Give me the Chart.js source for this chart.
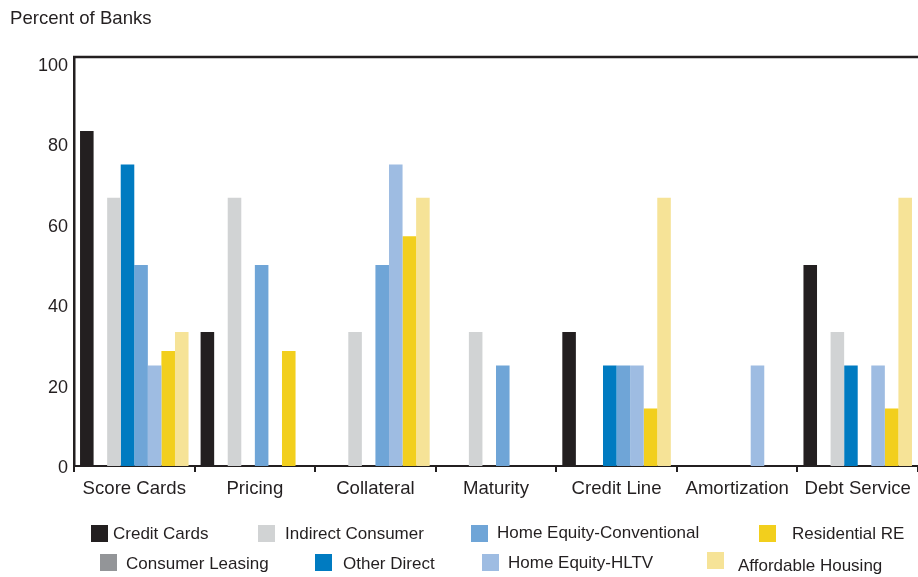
<!DOCTYPE html>
<html>
<head>
<meta charset="utf-8">
<script src="https://cdn.jsdelivr.net/npm/chart.js@4.4.0/dist/chart.umd.min.js"></script>
<style>
  html, body { margin: 0; padding: 0; background: #fff; }
  #wrap { width: 918px; height: 577px; position: relative; }
</style>
</head>
<body>
<div id="wrap"><canvas id="bankChart"></canvas></div>
<script>
const categories = ["Score Cards", "Pricing", "Collateral", "Maturity", "Credit Line", "Amortization", "Debt Service"];
const creditCards       = [83.3, 33.3, 0, 0, 33.3, 0, 50];
const consumerLeasing   = [0, 0, 0, 0, 0, 0, 0];
const indirectConsumer  = [66.7, 66.7, 33.3, 33.3, 0, 0, 33.3];
const otherDirect       = [75, 0, 0, 0, 25, 0, 25];
const homeEquityConv    = [50, 50, 50, 25, 25, 0, 0];
const homeEquityHLTV    = [25, 0, 75, 0, 25, 25, 25];
const residentialRE     = [28.6, 28.6, 57.1, 0, 14.3, 0, 14.3];
const affordableHousing = [33.3, 0, 66.7, 0, 66.7, 0, 66.7];
const yTicks = [0, 20, 40, 60, 80, 100];

const INK = "#231f20";
const FONT = "'Liberation Sans', Arial, Helvetica, sans-serif";

// where each legend entry sits (two staggered rows under the axis)
const legendSlots = [
  { ds: 0, x: 91,  y: 525, tx: 113, ty: 539 },
  { ds: 2, x: 258, y: 525, tx: 285, ty: 539 },
  { ds: 4, x: 471, y: 525, tx: 497, ty: 538 },
  { ds: 6, x: 759, y: 525, tx: 792, ty: 539 },
  { ds: 1, x: 100, y: 554, tx: 126, ty: 569 },
  { ds: 3, x: 315, y: 554, tx: 343, ty: 569 },
  { ds: 5, x: 482, y: 554, tx: 508, ty: 568 },
  { ds: 7, x: 707, y: 552, tx: 738, ty: 571 },
];

const frameAndLegend = {
  id: "frameAndLegend",
  afterDraw(chart) {
    const ctx = chart.ctx;
    const area = chart.chartArea;
    ctx.save();
    // top edge of the plot frame
    ctx.strokeStyle = INK;
    ctx.lineWidth = 2.5;
    ctx.beginPath();
    ctx.moveTo(area.left - 1, area.top);
    ctx.lineTo(chart.width, area.top);
    ctx.stroke();

    // axis title
    ctx.fillStyle = INK;
    ctx.font = "18.6px " + FONT;
    ctx.textBaseline = "alphabetic";
    ctx.textAlign = "left";
    ctx.fillText("Percent of Banks", 10, 24);

    // legend
    ctx.font = "17px " + FONT;
    legendSlots.forEach((slot) => {
      const ds = chart.data.datasets[slot.ds];
      ctx.fillStyle = ds.backgroundColor;
      ctx.fillRect(slot.x, slot.y, 17, 17);
      ctx.fillStyle = INK;
      ctx.fillText(ds.label, slot.tx, slot.ty);
    });
    ctx.restore();
  },
};

const chartData = {
  labels: categories,
  datasets: [
    { label: "Credit Cards", data: creditCards, backgroundColor: "#231f20" },
    { label: "Consumer Leasing", data: consumerLeasing, backgroundColor: "#939598" },
    { label: "Indirect Consumer", data: indirectConsumer, backgroundColor: "#d1d3d4" },
    { label: "Other Direct", data: otherDirect, backgroundColor: "#007bc1" },
    { label: "Home Equity-Conventional", data: homeEquityConv, backgroundColor: "#6fa5d7" },
    { label: "Home Equity-HLTV", data: homeEquityHLTV, backgroundColor: "#9ebce2" },
    { label: "Residential RE", data: residentialRE, backgroundColor: "#f2cf1d" },
    { label: "Affordable Housing", data: affordableHousing, backgroundColor: "#f6e397" },
  ],
};

chartData.datasets.forEach((ds) => {
  ds.categoryPercentage = 0.9;
  ds.barPercentage = 1.0;
  ds.borderWidth = 0;
});

new Chart(document.getElementById("bankChart"), {
  type: "bar",
  data: chartData,
  plugins: [frameAndLegend],
  options: {
    responsive: true,
    maintainAspectRatio: false,
    animation: false,
    layout: { padding: { top: 57, left: 0, right: 0, bottom: 0 } },
    plugins: {
      legend: { display: false },
      title: { display: false },
      tooltip: { enabled: false },
    },
    scales: {
      x: {
        offset: true,
        grid: {
          display: true,
          offset: true,
          drawOnChartArea: false,
          drawTicks: true,
          tickLength: 6,
          lineWidth: 2,
          color: INK,
        },
        border: { display: true, color: INK, width: 2 },
        ticks: {
          color: INK,
          padding: 6,
          maxRotation: 0,
          autoSkip: false,
          font: { family: FONT, size: 18.6 },
        },
        afterFit(scale) {
          scale.height = 111;
        },
      },
      y: {
        min: 0,
        max: 101.7,
        grid: { display: false, drawTicks: false },
        border: { display: true, color: INK, width: 2.5 },
        ticks: {
          color: INK,
          padding: 6,
          labelOffset: 2,
          font: { family: FONT, size: 18 },
        },
        afterBuildTicks(scale) {
          scale.ticks = yTicks.map((v) => ({ value: v }));
        },
        afterFit(scale) {
          scale.width = 74;
        },
      },
    },
  },
});
</script>
</body>
</html>
